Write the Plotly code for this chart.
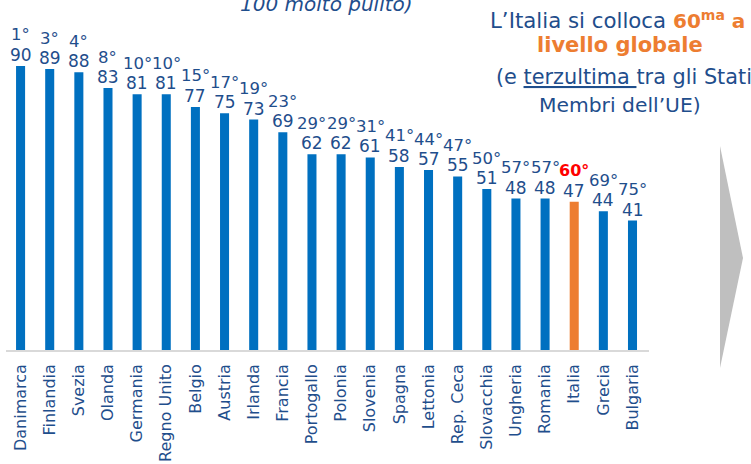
import plotly.graph_objects as go

countries = ["Danimarca", "Finlandia", "Svezia", "Olanda", "Germania", "Regno Unito",
             "Belgio", "Austria", "Irlanda", "Francia", "Portogallo", "Polonia",
             "Slovenia", "Spagna", "Lettonia", "Rep. Ceca", "Slovacchia", "Ungheria",
             "Romania", "Italia", "Grecia", "Bulgaria"]
scores = [90, 89, 88, 83, 81, 81, 77, 75, 73, 69, 62, 62, 61, 58, 57, 55, 51, 48, 48, 47, 44, 41]
ranks = [1, 3, 4, 8, 10, 10, 15, 17, 19, 23, 29, 29, 31, 41, 44, 47, 50, 57, 57, 60, 69, 75]
highlight = "Italia"

BLUE = "#0070C0"
ORANGE = "#ED7D31"
RED = "#FF0000"
TXT = "#1F4E8C"
FONT = "DejaVu Sans"

colors = [ORANGE if c == highlight else BLUE for c in countries]

fig = go.Figure(go.Bar(
    x=countries, y=scores, marker_color=colors, marker_line_width=0,
    cliponaxis=False, hoverinfo="skip",
))

W, H = 751, 464
ml, mr, mt, mb = 6, 102, 0, 114
fig.update_layout(
    width=W, height=H,
    margin=dict(l=ml, r=mr, t=mt, b=mb, autoexpand=False),
    plot_bgcolor="white", paper_bgcolor="white",
    bargap=0.69, showlegend=False,
    font=dict(family=FONT, color=TXT),
    xaxis=dict(tickangle=-90, tickfont=dict(family=FONT, size=16, color=TXT),
               showline=True, linecolor="#D9D9D9", linewidth=1.5, ticks="",
               ticklabelstandoff=6, automargin=False,
               showgrid=False, fixedrange=True),
    yaxis=dict(range=[0, 110.9], visible=False, showgrid=False, fixedrange=True),
)

for c, s, r in zip(countries, scores, ranks):
    fig.add_annotation(x=c, y=s, text=str(s), showarrow=False, yanchor="middle",
                       yshift=11, font=dict(family=FONT, size=17, color=TXT))
    if c == highlight:
        rt = f"<b>{r}°</b>"
        rc = RED
        rs = 16
    else:
        rt = f"{r}°"
        rc = TXT
        rs = 16.5
    fig.add_annotation(x=c, y=s, text=rt, showarrow=False, yanchor="middle",
                       yshift=31, font=dict(family=FONT, size=rs, color=rc))

pw = W - ml - mr
ph = H - mt - mb
def px_x(x):
    return (x - ml) / pw
def px_y(y):
    return 1 - (y - mt) / ph

def side(text, x, y, anchor="center", color=TXT, size=20):
    fig.add_annotation(
        xref="paper", yref="paper", x=px_x(x), y=px_y(y), xanchor=anchor, yanchor="middle",
        showarrow=False, align="center", font=dict(family=FONT, size=size, color=color), text=text,
    )

side("L’Italia si colloca", 668, 20, anchor="right", size=21.3)
side("<b>60<sup>ma</sup> a</b>", 671, 20, anchor="left", color=ORANGE)
side("<b>livello globale</b>", 620, 45, color=ORANGE, size=21)
side("(e <u>terzultima </u>tra gli Stati", 624, 77, size=20.8)
side("Membri dell’UE)", 620, 105, size=20.3)

fig.add_annotation(
    xref="paper", yref="paper", x=px_x(326), y=px_y(18), xanchor="center", yanchor="bottom",
    showarrow=False, font=dict(family=FONT, size=20, color=TXT),
    text="<i>100 molto pulito)</i>",
)

fig.add_shape(
    type="path", xref="paper", yref="paper",
    path=f"M {px_x(720)} {px_y(146)} L {px_x(743)} {px_y(258)} L {px_x(720)} {px_y(368)} Z",
    fillcolor="#BFBFBF", line=dict(width=0), layer="above",
)

fig.write_html("out.html", config={"displayModeBar": False},
               post_script="document.body.style.margin='0px';")
